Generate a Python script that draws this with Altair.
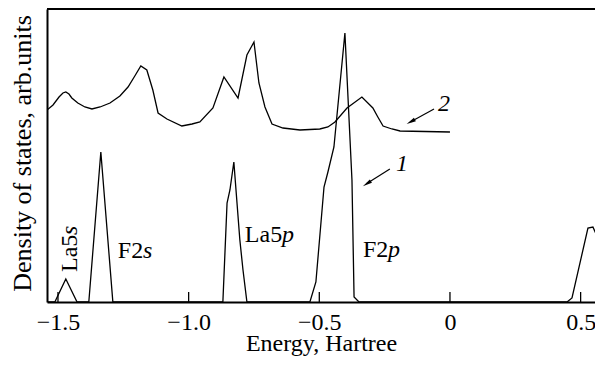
import altair as alt
import pandas as pd

# ---- data (Energy in Hartree, DOS in arbitrary units) ----
# curve 2 (upper, total DOS)
e2 = [-1.542, -1.519, -1.496, -1.481, -1.470, -1.458, -1.447, -1.424, -1.397, -1.370,
      -1.339, -1.301, -1.263, -1.232, -1.206, -1.183, -1.160, -1.137, -1.117, -1.083,
      -1.026, -0.987, -0.957, -0.907, -0.865, -0.811, -0.777, -0.750, -0.731, -0.708,
      -0.681, -0.639, -0.574, -0.498, -0.467, -0.440, -0.394, -0.337, -0.295, -0.276,
      -0.256, -0.222, -0.191, 0.000]
d2 = [192, 197, 205, 209, 210, 208, 204, 199, 195, 193,
      195, 199, 206, 215, 226, 236, 232, 212, 189, 183,
      176, 178, 180, 194, 225, 204, 247, 260, 219, 195,
      178, 174, 172, 173, 175, 180, 194, 205, 194, 185,
      176, 173, 171, 170]

# curve 1 (lower, partial DOS)
e1 = [-1.542, -1.512, -1.470, -1.427, -1.382, -1.336, -1.290, -0.869, -0.853, -0.842,
      -0.827, -0.804, -0.792, -0.777, -0.536, -0.513, -0.482, -0.467, -0.444, -0.402,
      -0.375, -0.367, -0.348, 0.448, 0.467, 0.528, 0.547, 0.586, 0.620]
d1 = [0, 0, 23, 0, 0, 150, 0, 0, 99, 112,
      140, 62, 32, 0, 0, 20, 115, 130, 155, 269,
      122, 5, 0, 0, 4, 74, 75, 52, 30]

tick_vals = [-1.5, -1.0, -0.5, 0.0, 0.5]
x_domain = [-1.542, 0.555]
y_domain = [0, 293]

# peak labels: regular part + italic part
lab_text = ["F2", "La5", "F2"]
lab_e = [-1.271, -0.785, -0.333]
lab_v = [44, 60, 45]
sub_text = ["s", "p", "p"]
sub_e = [-1.175, -0.643, -0.237]
sub_v = [44, 60, 45]

# vertical La5s label
rot_text = ["La5"]
rot_e = [-1.427]
rot_v = [30]
rot_sub = ["s"]
rot_sub_v = [67]

# curve numbers
num_text = ["1", "2"]
num_e = [-0.184, -0.023]
num_v = [131, 191]

# arrows: tail -> head
arr_e0 = [-0.230, -0.061]
arr_v0 = [133, 193]
arr_e1 = [-0.318, -0.150]
arr_v1 = [118.4, 180.2]
arr_angle = [237.8, 240.9]

FONT = "Liberation Serif"

xs = alt.Scale(domain=x_domain, nice=False, zero=False)
ys = alt.Scale(domain=y_domain, nice=False, zero=False)

df1 = pd.DataFrame({"E": e1, "v": d1, "o": range(len(e1))})
df2 = pd.DataFrame({"E": e2, "v": d2, "o": range(len(e2))})

xaxis = alt.Axis(values=tick_vals, ticks=False, grid=False, domainColor="black",
                 domainWidth=2, labelExpr="datum.value == 0 ? '0' : format(datum.value, '.1f')",
                 labelFont=FONT, labelFontSize=24, labelColor="black",
                 labelBaseline="alphabetic", labelPadding=27, labelFlush=False,
                 title="Energy, Hartree", titleFont=FONT, titleFontSize=24,
                 titleFontWeight="normal", titleColor="black", titleBaseline="alphabetic",
                 titleX=274, titleY=48, titleAlign="center")
yaxis = alt.Axis(ticks=False, labels=False, grid=False, domainColor="black", domainWidth=2,
                 title="Density of states, arb.units", titleFont=FONT, titleFontSize=26,
                 titleFontWeight="normal", titleColor="black", titleBaseline="alphabetic",
                 titleX=-17, titleY=144, titleAlign="center", titleAngle=270)

line1 = alt.Chart(df1).mark_line(color="black", strokeWidth=1.3, clip=True).encode(
    x=alt.X("E:Q", scale=xs, axis=xaxis),
    y=alt.Y("v:Q", scale=ys, axis=yaxis),
    order="o:Q",
)
line2 = alt.Chart(df2).mark_line(color="black", strokeWidth=1.3, clip=True).encode(
    x=alt.X("E:Q", scale=xs), y=alt.Y("v:Q", scale=ys), order="o:Q",
)

ticks = alt.Chart(pd.DataFrame({"E": tick_vals})).mark_rule(color="black", strokeWidth=1.3).encode(
    x=alt.X("E:Q", scale=xs), y=alt.value(283), y2=alt.value(293)
)
top = alt.Chart(pd.DataFrame({"a": [0]})).mark_rule(color="black", strokeWidth=2).encode(
    y=alt.value(0)
)

labs = alt.Chart(pd.DataFrame({"E": lab_e, "v": lab_v, "t": lab_text})).mark_text(
    font=FONT, fontSize=24, align="left", baseline="alphabetic", color="black"
).encode(x=alt.X("E:Q", scale=xs), y=alt.Y("v:Q", scale=ys), text="t:N")
subs = alt.Chart(pd.DataFrame({"E": sub_e, "v": sub_v, "t": sub_text})).mark_text(
    font=FONT, fontSize=24, fontStyle="italic", align="left", baseline="alphabetic", color="black"
).encode(x=alt.X("E:Q", scale=xs), y=alt.Y("v:Q", scale=ys), text="t:N")

rot = alt.Chart(pd.DataFrame({"E": rot_e, "v": rot_v, "t": rot_text})).mark_text(
    font=FONT, fontSize=24, align="left", baseline="alphabetic", angle=270, color="black"
).encode(x=alt.X("E:Q", scale=xs), y=alt.Y("v:Q", scale=ys), text="t:N")
rot2 = alt.Chart(pd.DataFrame({"E": rot_e, "v": rot_sub_v, "t": rot_sub})).mark_text(
    font=FONT, fontSize=24, fontStyle="italic", align="left", baseline="alphabetic", angle=270,
    color="black"
).encode(x=alt.X("E:Q", scale=xs), y=alt.Y("v:Q", scale=ys), text="t:N")

nums = alt.Chart(pd.DataFrame({"E": num_e, "v": num_v, "t": num_text})).mark_text(
    font=FONT, fontSize=24, fontStyle="italic", align="center", baseline="alphabetic", color="black"
).encode(x=alt.X("E:Q", scale=xs), y=alt.Y("v:Q", scale=ys), text="t:N")

adf = pd.DataFrame({"E0": arr_e0, "v0": arr_v0, "E1": arr_e1, "v1": arr_v1, "ang": arr_angle})
shafts = alt.Chart(adf).mark_rule(color="black", strokeWidth=1.2).encode(
    x=alt.X("E0:Q", scale=xs), y=alt.Y("v0:Q", scale=ys), x2="E1:Q", y2="v1:Q"
)
heads = alt.Chart(adf).mark_point(
    shape="M0,-1L0.42,1L-0.42,1Z", filled=True, color="black", size=90, opacity=1
).encode(x=alt.X("E1:Q", scale=xs), y=alt.Y("v1:Q", scale=ys), angle=alt.Angle("ang:Q", scale=None))

chart = alt.layer(line1, line2, ticks, top, labs, subs, rot, rot2, nums, shafts, heads).properties(
    width=548, height=293,
    padding={"left": 39, "top": 1, "right": 0, "bottom": 55},
    autosize="none",
).configure_view(stroke=None)

chart.save("out.html", embed_options={"renderer": "svg", "actions": False})
